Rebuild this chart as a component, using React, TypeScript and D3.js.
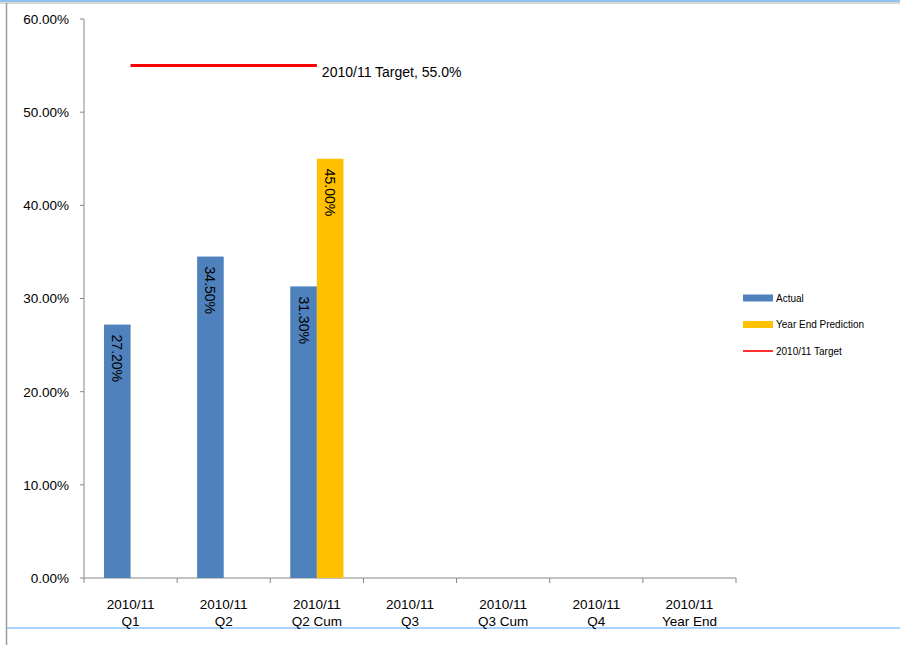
import React, { useRef, useEffect } from "react";
import * as d3 from "d3";

// categories and series
const categories = [
  ["2010/11", "Q1"],
  ["2010/11", "Q2"],
  ["2010/11", "Q2 Cum"],
  ["2010/11", "Q3"],
  ["2010/11", "Q3 Cum"],
  ["2010/11", "Q4"],
  ["2010/11", "Year End"],
];
const seriesNames = ["Actual", "Year End Prediction"];
const actual = [27.2, 34.5, 31.3, null, null, null, null];
const prediction = [null, null, 45.0, null, null, null, null];
const target = [55, 55, 55, null, null, null, null];
const yTicks = [0, 10, 20, 30, 40, 50, 60];

const W = 900;
const H = 645;
const FONT = "'Liberation Sans', Arial, sans-serif";
const AXIS = "#868686";
const BLUE = "#4f81bd";
const YELLOW = "#ffc000";
const RED = "#ff0000";

export default function App() {
  const svgRef = useRef<SVGSVGElement>(null);

  useEffect(() => {
    const svg = d3.select(svgRef.current);
    svg.selectAll("*").remove();

    const keys = categories.map((c) => c.join(" "));
    const x = d3.scaleBand().domain(keys).range([84, 736]).padding(0);
    const xs = d3
      .scaleBand()
      .domain(seriesNames)
      .range([0, x.bandwidth()])
      .paddingInner(0)
      .paddingOuter(0.75);
    const y = d3.scaleLinear().domain([0, 60]).range([578, 19]);

    // window frame
    svg.append("rect").attr("x", 0).attr("y", 0).attr("width", W).attr("height", 2).attr("fill", "#8fc0ee");
    svg.append("line").attr("x1", 0).attr("x2", W).attr("y1", 3).attr("y2", 3).attr("stroke", "#b0b0b0");
    svg.append("line").attr("x1", 6.5).attr("x2", 6.5).attr("y1", 3).attr("y2", H).attr("stroke", "#9a9a9a").attr("stroke-width", 1.5);
    svg.append("line").attr("x1", 7).attr("x2", W).attr("y1", 628).attr("y2", 628).attr("stroke", "#8ec5ff").attr("stroke-width", 1.5);

    // y axis
    const gy = svg.append("g");
    gy.append("line").attr("x1", 84).attr("x2", 84).attr("y1", y(60)).attr("y2", y(0)).attr("stroke", AXIS);
    gy.selectAll(".yt")
      .data(yTicks)
      .enter()
      .append("line")
      .attr("x1", 80)
      .attr("x2", 84)
      .attr("y1", (d) => y(d))
      .attr("y2", (d) => y(d))
      .attr("stroke", AXIS);
    gy.selectAll(".yl")
      .data(yTicks)
      .enter()
      .append("text")
      .attr("x", 69)
      .attr("y", (d) => y(d))
      .attr("dy", "0.36em")
      .attr("text-anchor", "end")
      .style("font-family", FONT)
      .style("font-size", "13.5px")
      .attr("fill", "#000")
      .text((d) => d3.format(".2f")(d) + "%");

    // x axis
    const gx = svg.append("g");
    gx.append("line").attr("x1", 84).attr("x2", 736).attr("y1", y(0)).attr("y2", y(0)).attr("stroke", AXIS);
    const edges = keys.map((k) => x(k) as number).concat([736]);
    gx.selectAll(".xt")
      .data(edges)
      .enter()
      .append("line")
      .attr("x1", (d) => d)
      .attr("x2", (d) => d)
      .attr("y1", y(0))
      .attr("y2", y(0) + 5)
      .attr("stroke", AXIS);
    const cl = gx
      .selectAll(".xl")
      .data(categories)
      .enter()
      .append("text")
      .attr("text-anchor", "middle")
      .style("font-family", FONT)
      .style("font-size", "13.5px")
      .attr("fill", "#000");
    cl.append("tspan")
      .attr("x", (d) => (x(d.join(" ")) as number) + x.bandwidth() / 2)
      .attr("y", 609)
      .text((d) => d[0]);
    cl.append("tspan")
      .attr("x", (d) => (x(d.join(" ")) as number) + x.bandwidth() / 2)
      .attr("y", 626)
      .text((d) => d[1]);

    // bars
    const rows: { key: string; s: string; v: number; color: string }[] = [];
    keys.forEach((k, i) => {
      if (actual[i] != null) rows.push({ key: k, s: seriesNames[0], v: actual[i] as number, color: BLUE });
      if (prediction[i] != null) rows.push({ key: k, s: seriesNames[1], v: prediction[i] as number, color: YELLOW });
    });
    svg
      .selectAll(".bar")
      .data(rows)
      .enter()
      .append("rect")
      .attr("x", (d) => (x(d.key) as number) + (xs(d.s) as number))
      .attr("y", (d) => y(d.v))
      .attr("width", xs.bandwidth())
      .attr("height", (d) => y(0) - y(d.v))
      .attr("fill", (d) => d.color);
    svg
      .selectAll(".blab")
      .data(rows)
      .enter()
      .append("text")
      .attr("transform", (d) => {
        const cx = (x(d.key) as number) + (xs(d.s) as number) + xs.bandwidth() / 2;
        return `translate(${cx},${y(d.v) + 10}) rotate(90)`;
      })
      .attr("dy", "0.36em")
      .style("font-family", FONT)
      .style("font-size", "14px")
      .attr("fill", "#000")
      .text((d) => d3.format(".2f")(d.v) + "%");

    // target line
    const tpts = keys
      .map((k, i) => ({ k, v: target[i] }))
      .filter((d) => d.v != null) as { k: string; v: number }[];
    const line = d3
      .line<{ k: string; v: number }>()
      .x((d) => (x(d.k) as number) + x.bandwidth() / 2)
      .y((d) => y(d.v));
    svg.append("path").datum(tpts).attr("d", line).attr("fill", "none").attr("stroke", RED).attr("stroke-width", 3);
    const last = tpts[tpts.length - 1];
    svg
      .append("text")
      .attr("x", (x(last.k) as number) + x.bandwidth() / 2 + 5)
      .attr("y", y(last.v) + 11)
      .style("font-family", FONT)
      .style("font-size", "14px")
      .attr("fill", "#000")
      .text("2010/11 Target, " + d3.format(".1f")(last.v) + "%");

    // legend
    const legend = [
      { name: "Actual", color: BLUE, kind: "bar" },
      { name: "Year End Prediction", color: YELLOW, kind: "bar" },
      { name: "2010/11 Target", color: "#ff3030", kind: "line" },
    ];
    const lg = svg
      .selectAll(".lg")
      .data(legend)
      .enter()
      .append("g")
      .attr("transform", (d, i) => `translate(743,${298 + i * 26.5})`);
    lg.filter((d) => d.kind === "bar")
      .append("rect")
      .attr("x", 0)
      .attr("y", -3.5)
      .attr("width", 30)
      .attr("height", 7)
      .attr("fill", (d) => d.color);
    lg.filter((d) => d.kind === "line")
      .append("line")
      .attr("x1", 0)
      .attr("x2", 30)
      .attr("y1", 0)
      .attr("y2", 0)
      .attr("stroke", (d) => d.color)
      .attr("stroke-width", 2);
    lg.append("text")
      .attr("x", 33)
      .attr("dy", "0.35em")
      .style("font-family", FONT)
      .style("font-size", "10px")
      .attr("fill", "#000")
      .text((d) => d.name);
  }, []);

  return (
    <div style={{ position: "absolute", left: 0, top: 0 }}>
      <svg ref={svgRef} width={W} height={H} style={{ display: "block", background: "#fff" }} />
    </div>
  );
}
